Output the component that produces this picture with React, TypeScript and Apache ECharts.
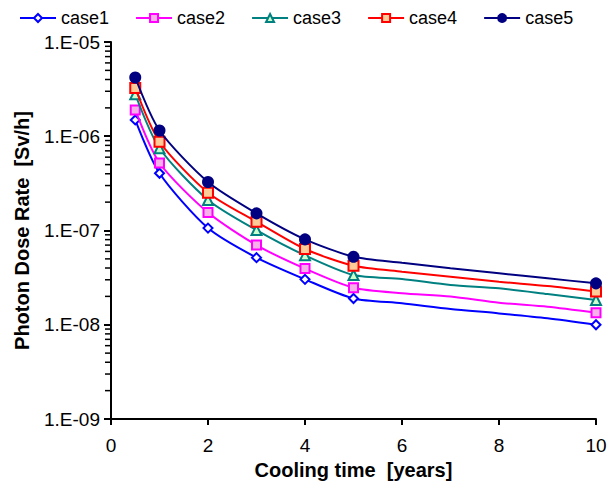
import React, { useEffect, useRef } from "react";
import * as echarts from "echarts";

const xValues = [0.5, 1, 2, 3, 4, 5, 6, 7, 8, 9, 10];
const markedX = [0.5, 1, 2, 3, 4, 5, 10];

const case1 = [1.49e-6, 4.05e-7, 1.06e-7, 5.15e-8, 3.03e-8, 1.9e-8, 1.69e-8, 1.47e-8, 1.32e-8, 1.17e-8, 1.0e-8];
const case2 = [1.9e-6, 5.2e-7, 1.55e-7, 7.0e-8, 3.94e-8, 2.47e-8, 2.16e-8, 1.99e-8, 1.71e-8, 1.55e-8, 1.34e-8];
const case3 = [2.79e-6, 7.45e-7, 2.11e-7, 1.01e-7, 5.45e-8, 3.37e-8, 3.06e-8, 2.64e-8, 2.44e-8, 2.12e-8, 1.83e-8];
const case4 = [3.25e-6, 8.75e-7, 2.52e-7, 1.24e-7, 6.36e-8, 4.23e-8, 3.66e-8, 3.24e-8, 2.86e-8, 2.58e-8, 2.25e-8];
const case5 = [4.2e-6, 1.15e-6, 3.27e-7, 1.52e-7, 8.05e-8, 5.27e-8, 4.55e-8, 3.97e-8, 3.52e-8, 3.11e-8, 2.75e-8];

const seriesNames = ["case1", "case2", "case3", "case4", "case5"];
const decades = [1e-9, 1e-8, 1e-7, 1e-6];
const minorMultipliers = [2, 3, 4, 5, 6, 7, 8, 9];

const FONT = "'Liberation Sans', Arial, Helvetica, sans-serif";

export default function App() {
  const ref = useRef<HTMLDivElement>(null);

  useEffect(() => {
    if (!ref.current) return;
    const chart = echarts.init(ref.current, undefined, { renderer: "svg" });

    const styles = [
      { color: "#0000ff", symbol: "diamond", size: 9, fill: "#ffffff" },
      { color: "#ff00ff", symbol: "rect", size: 9, fill: "#f8b0e8" },
      { color: "#008080", symbol: "triangle", size: 10, fill: "#ccffcc" },
      { color: "#ff0000", symbol: "rect", size: 10, fill: "#ffcc99" },
      { color: "#000080", symbol: "circle", size: 10, fill: "#000080" },
    ];
    const allData = [case1, case2, case3, case4, case5];

    const lineSeries = allData.map((vals, si) => {
      const st = styles[si];
      return {
        name: seriesNames[si],
        type: "line",
        smooth: 0.25,
        symbol: st.symbol,
        symbolSize: st.size,
        showAllSymbol: true,
        z: 3 + si,
        lineStyle: { color: st.color, width: 2 },
        itemStyle: { color: st.fill, borderColor: st.color, borderWidth: 2 },
        data: xValues.map((x, i) =>
          markedX.includes(x)
            ? { value: [x, vals[i]] }
            : { value: [x, vals[i]], symbol: "none", symbolSize: 0 }
        ),
      };
    });

    const minorData: number[][] = [];
    decades.forEach((d) => minorMultipliers.forEach((m) => minorData.push([0, d * m])));

    // minor log ticks (2..9 per decade) drawn through the axis scale;
    // named like the first series so the legend does not filter it out
    const minorSeries = {
      name: "case1",
      type: "custom",
      clip: false,
      legendHoverLink: false,
      z: 20,
      data: minorData,
      renderItem: (_p: any, api: any) => {
        const p = api.coord([api.value(0), api.value(1)]);
        return {
          type: "line",
          shape: { x1: p[0] - 6, y1: p[1], x2: p[0], y2: p[1] },
          style: { stroke: "#000", lineWidth: 1.5 },
        };
      },
    };

    chart.setOption({
      animation: false,
      backgroundColor: "#ffffff",
      textStyle: { fontFamily: FONT },
      legend: {
        data: seriesNames,
        top: -4,
        left: 6,
        itemWidth: 36,
        itemHeight: 10,
        itemGap: 26,
        textStyle: { fontSize: 18, color: "#000", fontFamily: FONT },
      },
      grid: { left: 103, right: 12, top: 34, bottom: 66, containLabel: false, outerBoundsMode: "none" },
      xAxis: {
        type: "value",
        min: 0,
        max: 10,
        interval: 2,
        name: "Cooling time  [years]",
        nameLocation: "middle",
        nameGap: 41,
        nameTextStyle: { fontSize: 20, fontWeight: "bold", color: "#000", fontFamily: FONT },
        axisLine: { lineStyle: { color: "#000", width: 2 } },
        axisTick: { inside: false, length: 6, lineStyle: { color: "#000", width: 2 } },
        axisLabel: { fontSize: 19, color: "#000", margin: 17, fontFamily: FONT },
        splitLine: { show: false },
      },
      yAxis: {
        type: "log",
        logBase: 10,
        min: 1e-9,
        max: 1e-5,
        name: "Photon Dose Rate  [Sv/h]",
        nameLocation: "middle",
        nameGap: 79,
        nameTextStyle: { fontSize: 20, fontWeight: "bold", color: "#000", fontFamily: FONT },
        axisLine: { show: true, lineStyle: { color: "#000", width: 2 } },
        axisTick: { show: true, inside: false, length: 7, lineStyle: { color: "#000", width: 2 } },
        axisLabel: {
          fontSize: 19,
          color: "#000",
          margin: 11,
          fontFamily: FONT,
          formatter: (v: number) => {
            const e = Math.round(Math.log10(v));
            const s = Math.abs(e).toString().padStart(2, "0");
            return "1.E" + (e < 0 ? "-" : "+") + s;
          },
        },
        splitLine: { show: false },
      },
      series: [...lineSeries, minorSeries],
    });

    return () => chart.dispose();
  }, []);

  return <div ref={ref} style={{ width: 600, height: 477 }} />;
}
